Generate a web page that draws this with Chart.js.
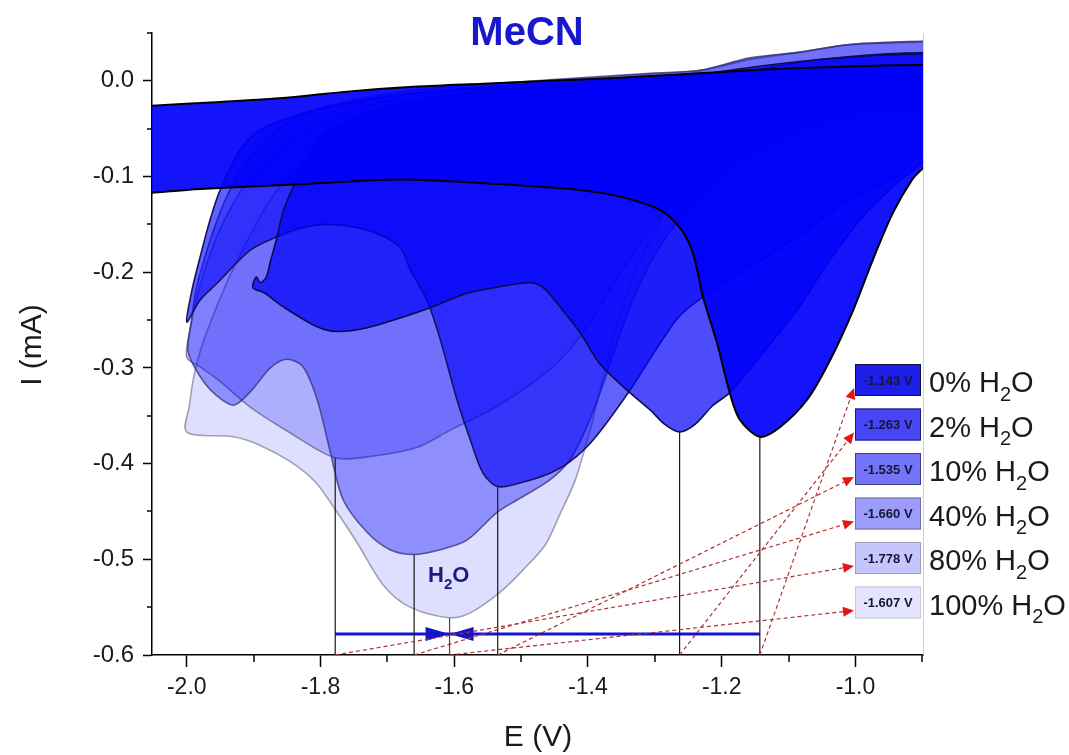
<!DOCTYPE html>
<html>
<head>
<meta charset="utf-8">
<title>MeCN</title>
<script src="https://cdn.jsdelivr.net/npm/chart.js@4.4.1/dist/chart.umd.min.js"></script>
<style>
  html, body { margin: 0; padding: 0; background: #fff; }
</style>
</head>
<body>
<canvas id="cv" width="1069" height="755"></canvas>
<script>
// water content of each scan and the reduction peak read for it
const waterLabels = ["0%", "2%", "10%", "40%", "80%", "100%"];
const peakE = [-1.143, -1.263, -1.535, -1.660, -1.778, -1.607];
const peakI = [-0.372, -0.367, -0.424, -0.495, -0.394, -0.561];
const peakText = ["-1.143 V", "-1.263 V", "-1.535 V", "-1.660 V", "-1.778 V", "-1.607 V"];

const xTickValues = [-2.0, -1.8, -1.6, -1.4, -1.2, -1.0];
const xMinorValues = [-1.9, -1.7, -1.5, -1.3, -1.1, -0.9];
const yTickValues = [0.0, -0.1, -0.2, -0.3, -0.4, -0.5, -0.6];
const yMinorValues = [0.05, -0.05, -0.15, -0.25, -0.35, -0.45, -0.55];

// current level of the H2O shift arrow
const spanI = -0.578;

// closed CV loops: cathodic sweep right to left, then the return sweep
const cv0E = [-0.874, -0.899, -0.915, -0.944, -0.974, -1.003, -1.038, -1.072, -1.113, -1.143, -1.173, -1.188, -1.207, -1.228, -1.243, -1.262, -1.292, -1.352, -1.412, -1.487, -1.581, -1.682, -1.830, -1.980, -2.052, -2.070,
  -2.070, -2.052, -1.950, -1.856, -1.756, -1.655, -1.557, -1.457, -1.357, -1.258, -1.158, -1.057, -0.959, -0.874];
const cv0I = [-0.072, -0.091, -0.103, -0.138, -0.187, -0.239, -0.292, -0.333, -0.362, -0.372, -0.354, -0.326, -0.274, -0.226, -0.180, -0.154, -0.135, -0.121, -0.114, -0.110, -0.106, -0.103, -0.108, -0.113, -0.117, -0.118,
  -0.027, -0.026, -0.022, -0.018, -0.011, -0.006, -0.003, 0.000, 0.003, 0.007, 0.011, 0.014, 0.016, 0.017];

const cv2E = [-0.874, -0.904, -0.938, -0.989, -1.038, -1.087, -1.138, -1.188, -1.213, -1.240, -1.263, -1.285, -1.307, -1.342, -1.383, -1.412, -1.442, -1.467, -1.487, -1.531, -1.581, -1.636, -1.682, -1.730, -1.775, -1.805, -1.856, -1.883, -1.901, -1.896, -1.890, -1.881,
  -1.875, -1.865, -1.856, -1.845, -1.835, -1.820, -1.805, -1.781, -1.756, -1.706, -1.655, -1.557, -1.457, -1.357, -1.258, -1.158, -1.057, -0.959, -0.874];
const cv2I = [-0.072, -0.088, -0.107, -0.142, -0.187, -0.239, -0.284, -0.326, -0.339, -0.359, -0.367, -0.359, -0.344, -0.323, -0.295, -0.263, -0.236, -0.216, -0.211, -0.215, -0.222, -0.237, -0.248, -0.258, -0.262, -0.257, -0.236, -0.222, -0.216, -0.205, -0.211, -0.205,
  -0.189, -0.163, -0.137, -0.117, -0.103, -0.080, -0.064, -0.049, -0.041, -0.028, -0.020, -0.011, -0.006, -0.001, 0.004, 0.014, 0.022, 0.027, 0.029];

const cv10E = [-0.874, -0.899, -0.938, -1.013, -1.087, -1.162, -1.228, -1.262, -1.292, -1.337, -1.392, -1.427, -1.457, -1.501, -1.535, -1.557, -1.576, -1.596, -1.621, -1.641, -1.666, -1.682, -1.730, -1.790, -1.830, -1.865, -1.905, -1.954, -1.980, -2.000,
  -1.992, -1.980, -1.965, -1.950, -1.920, -1.890, -1.845, -1.805, -1.706, -1.606, -1.457, -1.307, -1.158, -1.057, -0.959, -0.874];
const cv10I = [-0.062, -0.074, -0.100, -0.127, -0.163, -0.197, -0.226, -0.245, -0.274, -0.323, -0.375, -0.398, -0.410, -0.420, -0.424, -0.410, -0.375, -0.333, -0.270, -0.229, -0.197, -0.173, -0.156, -0.150, -0.154, -0.163, -0.177, -0.211, -0.229, -0.252,
  -0.218, -0.184, -0.145, -0.114, -0.072, -0.051, -0.038, -0.030, -0.017, -0.009, -0.003, 0.003, 0.011, 0.022, 0.028, 0.030];

const cv40E = [-0.874, -0.963, -1.053, -1.143, -1.207, -1.258, -1.300, -1.333, -1.360, -1.383, -1.404, -1.427, -1.457, -1.506, -1.536, -1.581, -1.621, -1.660, -1.696, -1.730, -1.766, -1.786, -1.805, -1.826, -1.850, -1.875, -1.905, -1.930, -1.957, -1.980, -1.998,
  -1.993, -1.986, -1.975, -1.960, -1.941, -1.916, -1.883, -1.838, -1.771, -1.651, -1.457, -1.307, -1.232, -1.158, -1.083, -1.008, -0.874];
const cv40I = [-0.020, -0.030, -0.046, -0.072, -0.103, -0.140, -0.182, -0.229, -0.281, -0.328, -0.365, -0.396, -0.417, -0.438, -0.451, -0.480, -0.490, -0.495, -0.490, -0.472, -0.438, -0.386, -0.333, -0.299, -0.291, -0.300, -0.325, -0.339, -0.328, -0.309, -0.283,
  -0.250, -0.218, -0.189, -0.156, -0.122, -0.091, -0.062, -0.039, -0.023, -0.009, 0.001, 0.008, 0.011, 0.024, 0.030, 0.038, 0.042];

const cv80E = [-0.874, -1.038, -1.143, -1.217, -1.277, -1.322, -1.367, -1.404, -1.442, -1.487, -1.546, -1.606, -1.655, -1.720, -1.778, -1.845, -1.905, -1.954, -1.980, -2.000,
  -1.995, -1.986, -1.972, -1.954, -1.932, -1.902, -1.860, -1.808, -1.741, -1.636, -1.457, -1.307, -1.232, -1.158, -1.083, -1.008, -0.874];
const cv80I = [-0.025, -0.039, -0.062, -0.093, -0.130, -0.171, -0.218, -0.260, -0.292, -0.318, -0.344, -0.365, -0.383, -0.392, -0.394, -0.368, -0.341, -0.312, -0.299, -0.289,
  -0.260, -0.229, -0.195, -0.161, -0.130, -0.098, -0.070, -0.046, -0.028, -0.013, 0.000, 0.007, 0.011, 0.023, 0.030, 0.038, 0.041];

const cv100E = [-0.874, -0.899, -0.959, -1.034, -1.108, -1.158, -1.207, -1.258, -1.307, -1.345, -1.374, -1.397, -1.419, -1.442, -1.464, -1.497, -1.531, -1.576, -1.607, -1.666, -1.706, -1.745, -1.778, -1.808, -1.845, -1.890, -1.930, -2.000,
  -1.996, -1.989, -1.977, -1.957, -1.935, -1.905, -1.875, -1.838, -1.786, -1.711, -1.621, -1.501, -1.383, -1.262, -1.158, -1.083, -1.008, -0.874];
const cv100I = [-0.008, -0.009, -0.013, -0.018, -0.027, -0.041, -0.069, -0.107, -0.166, -0.229, -0.302, -0.365, -0.417, -0.453, -0.485, -0.511, -0.534, -0.556, -0.561, -0.550, -0.527, -0.483, -0.448, -0.419, -0.398, -0.381, -0.372, -0.367,
  -0.339, -0.307, -0.276, -0.239, -0.203, -0.161, -0.124, -0.093, -0.067, -0.046, -0.028, -0.015, -0.003, 0.006, 0.022, 0.030, 0.038, 0.042];

const loopsE = [cv0E, cv2E, cv10E, cv40E, cv80E, cv100E];
const loopsI = [cv0I, cv2I, cv10I, cv40I, cv80I, cv100I];

const fillAlpha = [0.92, 0.7, 0.62, 0.36, 0.22, 0.13];
const edgeColor = ["#000000", "#0b0b4a", "#14145e", "rgba(50,50,120,0.75)", "rgba(95,95,130,0.7)", "rgba(125,125,145,0.7)"];
const boxFill = ["#1e1eea", "#4646f6", "#7474f8", "#9c9cfa", "#c6c6fc", "#e4e4fc"];
const boxEdge = ["#101040", "#202060", "#404080", "#7070a0", "#a0a0b8", "#c8c8d4"];

const FONT = '"Liberation Sans", Arial, sans-serif';
Chart.defaults.font.family = FONT;
Chart.defaults.color = "#1a1a1a";

function zip(es, is) {
  return es.map((e, k) => ({ x: e, y: is[k] }));
}

const datasets = [];

// drop lines from each peak to the axis
peakE.forEach((e, i) => {
  datasets.push({
    data: [{ x: e, y: peakI[i] }, { x: e, y: -0.6 }],
    showLine: true,
    borderColor: i === 5 ? "#444" : "#1a1a1a",
    borderWidth: 1.2,
    pointRadius: 0,
    fill: false,
  });
});

// shift arrow between the 80% and 0% peaks
datasets.push({
  data: [{ x: peakE[4], y: spanI }, { x: peakE[0], y: spanI }],
  showLine: true,
  borderColor: "#1515c8",
  borderWidth: 3,
  pointRadius: 0,
  fill: false,
});

loopsE.forEach((es, i) => {
  datasets.push({
    label: waterLabels[i] + " H2O",
    data: zip(es, loopsI[i]),
    showLine: true,
    tension: 0.3,
    borderColor: edgeColor[i],
    borderWidth: i === 0 ? 2 : 1.6,
    backgroundColor: "rgba(0,0,250," + fillAlpha[i] + ")",
    fill: "shape",
    pointRadius: 0,
  });
});

function drawH2O(ctx, prefix, x, base, size, bold) {
  const w = bold ? "bold " : "";
  ctx.font = w + size + "px " + FONT;
  ctx.fillText(prefix + "H", x, base);
  let cx = x + ctx.measureText(prefix + "H").width;
  ctx.font = w + Math.round(size * 0.7) + "px " + FONT;
  ctx.fillText("2", cx, base + size * 0.3);
  cx += ctx.measureText("2").width;
  ctx.font = w + size + "px " + FONT;
  ctx.fillText("O", cx, base);
}

function dashedArrow(ctx, x1, y1, x2, y2) {
  const a = Math.atan2(y2 - y1, x2 - x1);
  const len = 11, half = 5;
  const bx = x2 - len * Math.cos(a), by = y2 - len * Math.sin(a);
  ctx.strokeStyle = "#b03030";
  ctx.lineWidth = 1.2;
  ctx.setLineDash([4, 3]);
  ctx.beginPath();
  ctx.moveTo(x1, y1);
  ctx.lineTo(bx, by);
  ctx.stroke();
  ctx.setLineDash([]);
  ctx.fillStyle = "#e01818";
  ctx.beginPath();
  ctx.moveTo(x2, y2);
  ctx.lineTo(bx + half * Math.sin(a), by - half * Math.cos(a));
  ctx.lineTo(bx - half * Math.sin(a), by + half * Math.cos(a));
  ctx.closePath();
  ctx.fill();
}

const decor = {
  id: "decor",
  afterDraw(chart) {
    const { ctx, chartArea: a } = chart;
    const x = chart.scales.x, y = chart.scales.y;
    ctx.save();

    // minor ticks
    ctx.strokeStyle = "#000";
    ctx.lineWidth = 1.5;
    xMinorValues.forEach((v) => {
      const px = Math.round(x.getPixelForValue(v));
      ctx.beginPath(); ctx.moveTo(px, a.bottom); ctx.lineTo(px, a.bottom + 7); ctx.stroke();
    });
    yMinorValues.forEach((v) => {
      const py = Math.round(y.getPixelForValue(v));
      ctx.beginPath(); ctx.moveTo(a.left - 5, py); ctx.lineTo(a.left, py); ctx.stroke();
    });

    // right frame
    ctx.strokeStyle = "#cfcfd4";
    ctx.lineWidth = 1;
    ctx.beginPath(); ctx.moveTo(a.right + 0.5, a.top); ctx.lineTo(a.right + 0.5, a.bottom); ctx.stroke();

    // heads of the shift arrow, meeting at the 100% peak
    const cx = x.getPixelForValue(peakE[5]);
    const cy = y.getPixelForValue(spanI);
    ctx.fillStyle = "#1515c8";
    ctx.beginPath();
    ctx.moveTo(cx - 24, cy - 7); ctx.lineTo(cx, cy); ctx.lineTo(cx - 24, cy + 7); ctx.closePath();
    ctx.moveTo(cx + 24, cy - 7); ctx.lineTo(cx, cy); ctx.lineTo(cx + 24, cy + 7); ctx.closePath();
    ctx.fill();

    ctx.fillStyle = "#1c1c7c";
    ctx.textAlign = "left";
    ctx.textBaseline = "alphabetic";
    drawH2O(ctx, "", 428, 582, 22, true);

    // legend boxes with peak potentials
    const boxL = 855, boxW = 66, boxH = 32;
    waterLabels.forEach((lab, i) => {
      const top = 364 + i * 44.5;
      dashedArrow(ctx, x.getPixelForValue(peakE[i]), a.bottom, boxL - 1, top + 24);
      ctx.fillStyle = boxFill[i];
      ctx.fillRect(boxL, top, boxW, boxH);
      ctx.strokeStyle = boxEdge[i];
      ctx.lineWidth = 1;
      ctx.strokeRect(boxL + 0.5, top + 0.5, boxW - 1, boxH - 1);
      ctx.fillStyle = "#15153a";
      ctx.font = "bold 13px " + FONT;
      ctx.textAlign = "center";
      ctx.textBaseline = "middle";
      ctx.fillText(peakText[i], boxL + boxW / 2, top + boxH / 2 + 1);
      ctx.textAlign = "left";
      ctx.textBaseline = "alphabetic";
      ctx.fillStyle = "#1a1a1a";
      drawH2O(ctx, lab + " ", 929, top + 28, 29, false);
    });

    // title and axis titles
    ctx.fillStyle = "#1717cf";
    ctx.font = "bold 40px " + FONT;
    ctx.textAlign = "center";
    ctx.textBaseline = "alphabetic";
    ctx.fillText("MeCN", 527, 45);

    ctx.fillStyle = "#1a1a1a";
    ctx.font = "30px " + FONT;
    ctx.textBaseline = "middle";
    ctx.fillText("E (V)", 538, 738);
    ctx.translate(33, 345);
    ctx.rotate(-Math.PI / 2);
    ctx.fillText("I (mA)", 0, 0);
    ctx.restore();
  },
};

new Chart(document.getElementById("cv"), {
  type: "scatter",
  data: { datasets },
  options: {
    responsive: false,
    animation: false,
    layout: { padding: { left: 0, right: 146, top: 33, bottom: 0 } },
    plugins: {
      legend: { display: false },
      tooltip: { enabled: false },
      title: { display: false },
    },
    scales: {
      x: {
        type: "linear",
        min: -2.052,
        max: -0.899,
        afterFit: (s) => { s.height = 100; },
        afterBuildTicks: (s) => { s.ticks = xTickValues.map((v) => ({ value: v })); },
        border: { color: "#000", width: 1.5 },
        grid: { drawOnChartArea: false, tickLength: 12, tickWidth: 1.5, tickColor: "#000" },
        ticks: {
          font: { size: 23 },
          color: "#1a1a1a",
          padding: 7,
          maxRotation: 0,
          callback: (v) => Number(v).toFixed(1),
        },
      },
      y: {
        type: "linear",
        min: -0.6,
        max: 0.05,
        afterFit: (s) => { s.width = 152; },
        afterBuildTicks: (s) => { s.ticks = yTickValues.map((v) => ({ value: v })); },
        border: { color: "#000", width: 1.5 },
        grid: { drawOnChartArea: false, tickLength: 9, tickWidth: 1.5, tickColor: "#000" },
        ticks: {
          font: { size: 24 },
          color: "#1a1a1a",
          padding: 9,
          callback: (v) => Number(v).toFixed(1),
        },
      },
    },
  },
  plugins: [decor],
});
</script>
</body>
</html>
